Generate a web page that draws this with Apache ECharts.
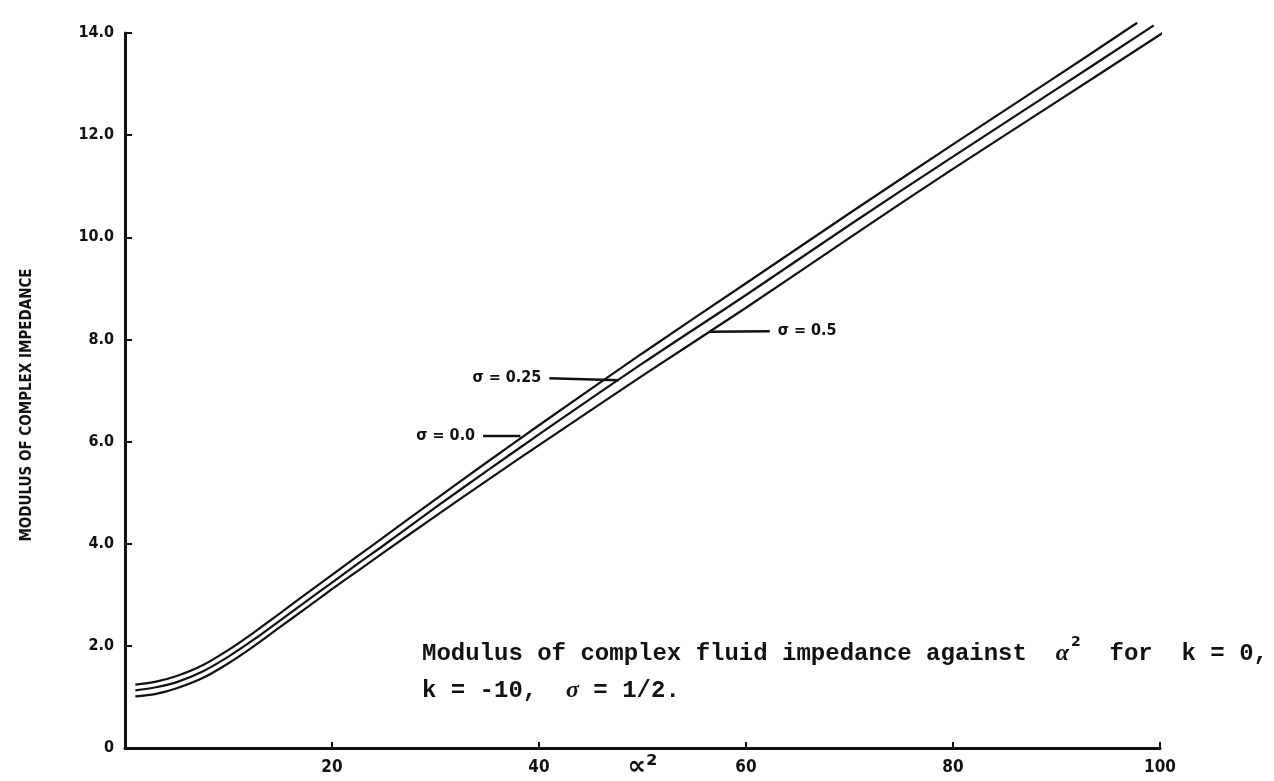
<!DOCTYPE html>
<html>
<head>
<meta charset="utf-8">
<script src="https://cdn.jsdelivr.net/npm/echarts@6/dist/echarts.min.js"></script>
<style>
html,body{margin:0;padding:0;background:#fff;}
#chart{width:1274px;height:781px;}
</style>
</head>
<body>
<div id="chart"></div>
<script>
// alpha^2 values
const alphaSq = [1, 3, 5, 7.5, 10, 12.5, 15, 17.5, 20, 22.5, 25, 30, 35, 40, 50, 60, 70, 80, 90];
// modulus of complex impedance for each sigma
const sigma00 = [1.24, 1.30, 1.41, 1.62, 1.92, 2.27, 2.64, 3.02, 3.39, 3.76, 4.13, 4.87, 5.60, 6.32, 7.73, 9.10, 10.47, 11.82, 13.15];
const sigma025 = [1.13, 1.19, 1.29, 1.50, 1.79, 2.13, 2.50, 2.87, 3.24, 3.61, 3.97, 4.71, 5.43, 6.14, 7.53, 8.87, 10.24, 11.58, 12.90];
const sigma05 = [1.01, 1.06, 1.17, 1.37, 1.66, 2.00, 2.37, 2.74, 3.11, 3.47, 3.83, 4.54, 5.24, 5.93, 7.29, 8.62, 9.99, 11.34, 12.65];
// end points of each curve (they run past the top of the axis)
const endPoints = [[97.8, 14.2], [99.4, 14.15], [101.0, 14.1]];
const seriesNames = ['σ = 0.0', 'σ = 0.25', 'σ = 0.5'];
// annotation arrows: [startX, startY, endX, endY]
const arrows = [[34.6, 6.12, 38.2, 6.12], [41.0, 7.24, 47.7, 7.2], [62.3, 8.16, 56.5, 8.15]];
const xTicks = [20, 40, 60, 80, 100];
const yTickLabels = ['0', '2.0', '4.0', '6.0', '8.0', '10.0', '12.0', '14.0'];
const yAxisTitle = 'MODULUS OF COMPLEX IMPEDANCE';
const xAxisTitle = '∝²';

const ink = '#111';
const allY = [sigma00, sigma025, sigma05];

function buildData(ys, endPt) {
  const d = alphaSq.map((x, i) => [x, ys[i]]);
  d.push(endPt);
  return d;
}

const series = allY.map((ys, k) => ({
  name: seriesNames[k],
  type: 'line',
  data: buildData(ys, endPoints[k]),
  smooth: 0.35,
  showSymbol: false,
  clip: false,
  lineStyle: { color: ink, width: 2.2 },
  markLine: {
    silent: true,
    symbol: ['none', 'arrow'],
    symbolSize: [0, 11],
    lineStyle: { color: ink, width: 2.4, type: 'solid' },
    label: {
      show: true,
      position: 'start',
      formatter: seriesNames[k],
      color: ink,
      fontFamily: "'DejaVu Sans Condensed', 'DejaVu Sans'",
      fontWeight: 'bold',
      fontSize: 16,
      distance: 8
    },
    data: [[
      { coord: [arrows[k][0], arrows[k][1]] },
      { coord: [arrows[k][2], arrows[k][3]] }
    ]]
  }
}));

const chart = echarts.init(document.getElementById('chart'), null, { renderer: 'canvas' });
chart.setOption({
  animation: false,
  backgroundColor: '#fff',
  grid: { left: 125, right: 114, top: 33, bottom: 33, outerBoundsMode: 'none', containLabel: false },
  title: {
    left: 417,
    top: 630,
    text: 'Modulus of complex fluid impedance against  {a|α}{s|2}  for  k = 0,\nk = -10,  {b|σ} = 1/2.',
    textStyle: {
      fontFamily: "'Liberation Mono', 'DejaVu Sans Mono', monospace",
      fontWeight: 'bold',
      fontSize: 24,
      color: ink,
      lineHeight: 37,
      rich: {
        a: { fontFamily: "'Liberation Serif', 'DejaVu Serif'", fontStyle: 'italic', fontWeight: 'bold', fontSize: 24, color: ink, lineHeight: 37 },
        b: { fontFamily: "'Liberation Serif', 'DejaVu Serif'", fontStyle: 'italic', fontWeight: 'bold', fontSize: 24, color: ink, lineHeight: 37 },
        s: { fontFamily: "'DejaVu Sans'", fontWeight: 'bold', fontSize: 14, color: ink, verticalAlign: 'top', lineHeight: 37, padding: [0, 0, 12, 2] }
      }
    }
  },
  graphic: [{
    type: 'text',
    x: 27,
    y: 405,
    rotation: Math.PI / 2,
    style: {
      text: yAxisTitle,
      fill: ink,
      font: "bold 15px 'DejaVu Sans Condensed', 'DejaVu Sans', sans-serif",
      align: 'center',
      verticalAlign: 'middle'
    }
  }],
  xAxis: {
    type: 'value',
    min: 0,
    max: 100,
    interval: 20,
    name: xAxisTitle,
    nameLocation: 'middle',
    nameGap: 6,
    nameMoveOverlap: false,
    nameTextStyle: { fontFamily: "'DejaVu Sans'", fontWeight: 'bold', fontSize: 26, color: ink },
    splitLine: { show: false },
    axisLine: { show: true, lineStyle: { color: ink, width: 3 } },
    axisTick: { show: true, inside: true, length: 6, lineStyle: { color: ink, width: 2 },
      customValues: xTicks },
    axisLabel: {
      color: ink, fontFamily: "'DejaVu Sans Condensed', 'DejaVu Sans'", fontWeight: 'bold', fontSize: 17, margin: 11,
      customValues: xTicks
    }
  },
  yAxis: {
    type: 'value',
    min: 0,
    max: 14,
    interval: 2,
    splitLine: { show: false },
    axisLine: { show: true, lineStyle: { color: ink, width: 3 } },
    axisTick: { show: true, inside: true, length: 7, lineStyle: { color: ink, width: 2 } },
    axisLabel: {
      color: ink, fontFamily: "'DejaVu Sans Condensed', 'DejaVu Sans'", fontWeight: 'bold', fontSize: 16, margin: 11,
      formatter: (v) => yTickLabels[Math.round(v / 2)] || ''
    }
  },
  series: series
});
</script>
</body>
</html>
